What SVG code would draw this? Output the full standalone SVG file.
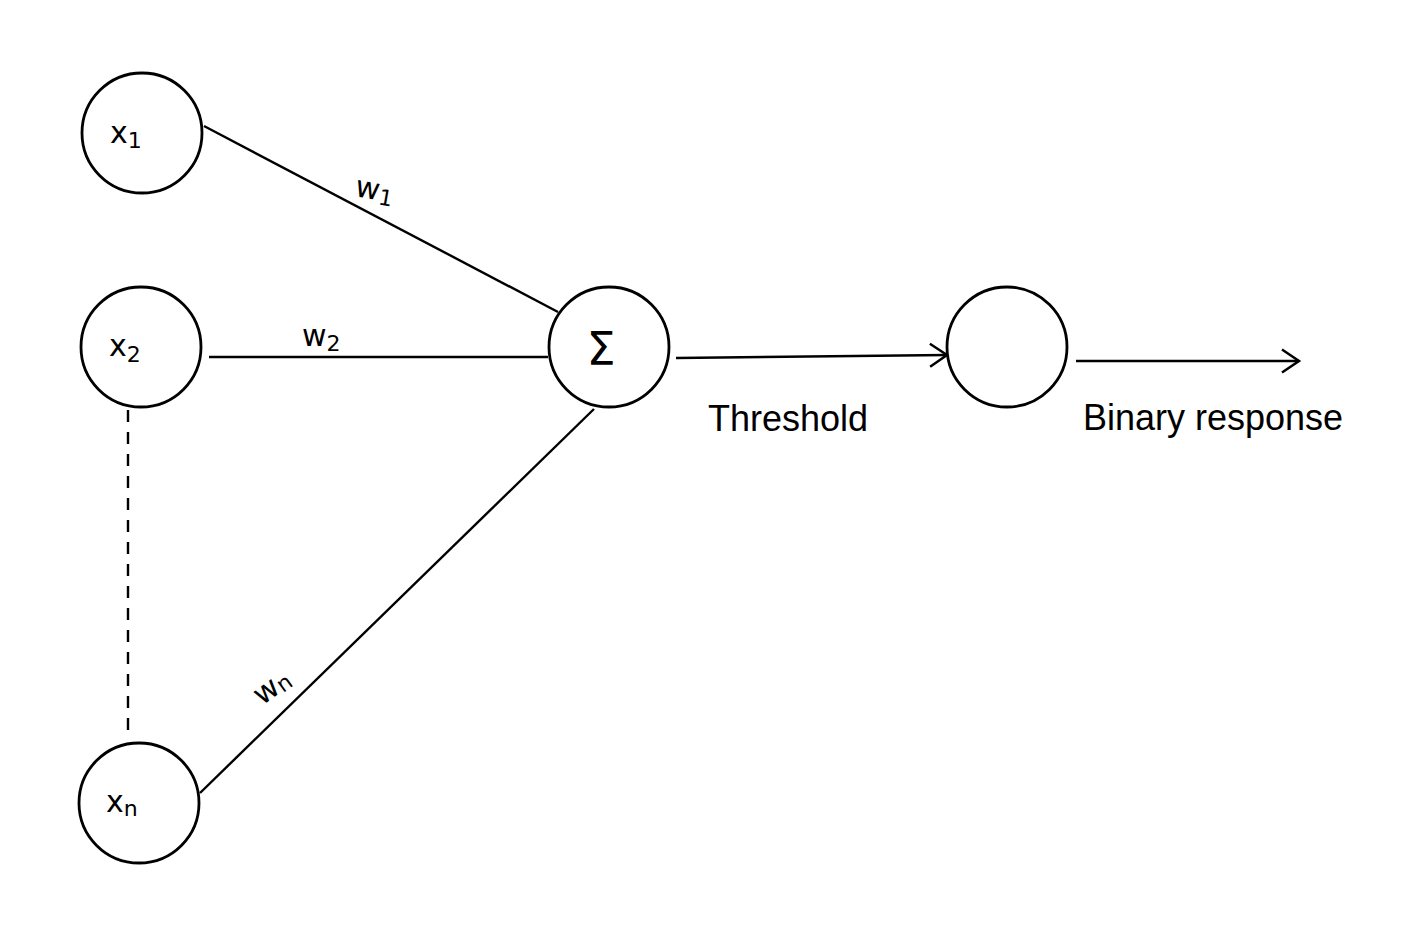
<svg xmlns="http://www.w3.org/2000/svg" width="1401" height="929" viewBox="0 0 1401 929">
<style>
.node{fill:#fff;stroke:#000;stroke-width:2.8}
.edge{stroke:#000;stroke-width:2.4;fill:none}
.hand{font-family:"DejaVu Sans",sans-serif;font-size:30px;fill:#000}
.sub{font-size:22px}
.sigma{font-size:46px}
.lbl{font-family:"Liberation Sans",Arial,sans-serif;font-size:36px;fill:#000}
</style>
<defs>
<marker id="arr" viewBox="0 0 24 26" refX="21" refY="13" markerWidth="24" markerHeight="26" markerUnits="userSpaceOnUse" orient="auto">
<path d="M4 1.5 L21 13 L4 24.5" fill="none" stroke="#000" stroke-width="2.5"/>
</marker>
</defs>
<rect width="1401" height="929" fill="#fff"/>
<g id="connectors">
<line class="edge" x1="204" y1="126" x2="558" y2="312"/>
<line class="edge" x1="209" y1="357" x2="548" y2="357"/>
<line class="edge" x1="200" y1="793" x2="594" y2="409"/>
<line class="edge" x1="676" y1="358" x2="947" y2="355" marker-end="url(#arr)"/>
<line class="edge" x1="1076" y1="361" x2="1299" y2="361" marker-end="url(#arr)"/>
<line class="edge" x1="128" y1="410" x2="128" y2="735" stroke-dasharray="12,10"/>
<text class="hand" transform="translate(354 196) rotate(10)">w<tspan class="sub" dy="4">1</tspan></text>
<text class="hand" x="302" y="346">w<tspan class="sub" dy="5">2</tspan></text>
<text class="hand" transform="translate(262 706) rotate(-36)">w<tspan class="sub" dy="2">n</tspan></text>
<text class="lbl" x="708" y="431">Threshold</text>
<text class="lbl" x="1083" y="430">Binary response</text>
</g>
<g id="x1">
<circle class="node" cx="142" cy="133" r="60"/>
<text class="hand" x="110" y="143">x<tspan class="sub" dy="5">1</tspan></text>
</g>
<g id="x2">
<circle class="node" cx="141" cy="347" r="60"/>
<text class="hand" x="109" y="356">x<tspan class="sub" dy="6">2</tspan></text>
</g>
<g id="xn">
<circle class="node" cx="139" cy="803" r="60"/>
<text class="hand" x="106" y="812">x<tspan class="sub" dy="4">n</tspan></text>
</g>
<g id="sum">
<circle class="node" cx="609" cy="347" r="60"/>
<text class="hand sigma" x="601" y="365" text-anchor="middle">Σ</text>
</g>
<g id="activation">
<circle class="node" cx="1007" cy="347" r="60"/>
</g>
</svg>
